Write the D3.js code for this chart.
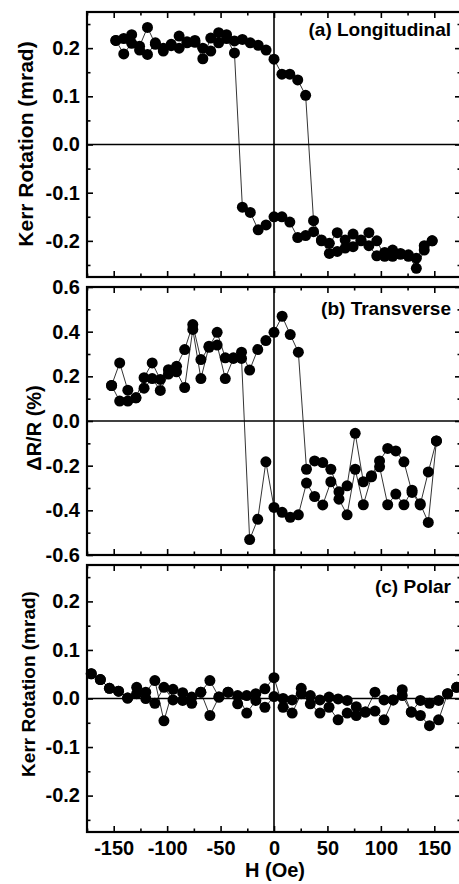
<!DOCTYPE html>
<html>
<head>
<meta charset="utf-8">
<script src="https://cdn.jsdelivr.net/npm/d3@7"></script>
<style>
  body { margin: 0; background: #fff; }
  svg text { font-family: "Liberation Sans", Arial, sans-serif; font-weight: bold; fill: #000; }
</style>
</head>
<body>
<div id="chart"></div>
<script>
// field values (Oe) for each panel, one point per step of the sweep
let fieldA = [-148, -140.6, -133.2, -125.8, -118.4, -111, -103.6, -96.2, -88.8, -81.4, -74, -66.6, -59.2, -51.8, -44.4, -37, -29.6, -22.2, -14.8, -7.4,
  0, 7.4, 14.8, 22.2, 29.6, 37, 44.4, 51.8, 59.2, 66.6, 74, 81.4, 88.8, 96.2, 103.6, 111, 118.4, 125.8, 133.2, 140.6, 148]
let kerrA_up = [0.216, 0.220, 0.228, 0.204, 0.243, 0.208, 0.194, 0.208, 0.225, 0.211, 0.216, 0.200, 0.194, 0.211, 0.228, 0.215, 0.218, 0.211, 0.206, 0.196,
  0.177, 0.146, 0.146, 0.134, 0.102, -0.158, -0.200, -0.226, -0.222, -0.215, -0.212, -0.198, -0.210, -0.231, -0.224, -0.232, -0.226, -0.229, -0.257, -0.219, -0.200]
let kerrA_down = [0.216, 0.188, 0.210, 0.196, 0.187, 0.211, 0.200, 0.205, 0.200, 0.213, 0.212, 0.178, 0.221, 0.232, 0.220, 0.190, -0.130, -0.141, -0.177, -0.167,
  -0.150, -0.150, -0.161, -0.193, -0.189, -0.181, -0.198, -0.205, -0.183, -0.198, -0.186, -0.200, -0.183, -0.200, -0.232, -0.219, -0.228, -0.232, -0.236, -0.210, -0.200]

let fieldB = [-152, -144.4, -136.8, -129.2, -121.6, -114, -106.4, -98.8, -91.2, -83.6, -76, -68.4, -60.8, -53.2, -45.6, -38, -30.4, -22.8, -15.2, -7.6,
  0, 7.6, 15.2, 22.8, 30.4, 38, 45.6, 53.2, 60.8, 68.4, 76, 83.6, 91.2, 98.8, 106.4, 114, 121.6, 129.2, 136.8, 144.4, 152]
let dRR_up = [0.159, 0.089, 0.089, 0.104, 0.147, 0.190, 0.137, 0.210, 0.220, 0.150, 0.410, 0.190, 0.335, 0.340, 0.190, 0.280, 0.308, 0.228, 0.320, 0.360,
  0.397, 0.469, 0.387, 0.308, -0.216, -0.179, -0.186, -0.216, -0.317, -0.290, -0.055, -0.272, -0.245, -0.179, -0.123, -0.134, -0.183, -0.320, -0.376, -0.228, -0.089]
let dRR_down = [0.159, 0.260, 0.138, 0.104, 0.194, 0.260, 0.186, 0.230, 0.245, 0.320, 0.432, 0.275, 0.330, 0.397, 0.283, 0.283, 0.280, -0.531, -0.440, -0.183,
  -0.387, -0.409, -0.431, -0.420, -0.278, -0.338, -0.376, -0.272, -0.350, -0.420, -0.216, -0.375, -0.250, -0.205, -0.375, -0.327, -0.375, -0.310, -0.370, -0.454, -0.089]

let fieldC = [-171, -162.5, -154, -145.5, -137, -128.5, -120, -111.5, -103, -94.5, -85.5, -77, -68.5, -60, -51.5, -43, -34, -25.5, -17, -8.5,
  0, 8.5, 17, 25.5, 34, 43, 51.5, 60, 68.5, 77, 85.5, 94.5, 103, 111.5, 120, 128.5, 137, 145.5, 154, 162.5, 171]
let kerrC_up = [0.051, 0.039, 0.021, 0.015, 0.001, 0.023, 0.013, 0.037, -0.046, 0.019, 0.012, 0.003, 0.013, 0.037, 0.003, 0.013, -0.011, 0.006, 0.010, 0.020,
  0.043, -0.018, -0.003, 0.021, 0.006, -0.003, 0.003, -0.001, -0.004, -0.017, -0.028, 0.013, -0.003, -0.003, 0.018, -0.028, -0.004, -0.010, -0.004, 0.010, 0.023]
let kerrC_down = [0.051, 0.039, 0.021, 0.015, 0.001, 0.010, 0.000, -0.010, 0.023, -0.003, -0.004, -0.010, 0.013, -0.035, 0.003, 0.013, 0.006, -0.030, -0.004, -0.018,
  0.004, 0.000, -0.030, 0.010, -0.011, -0.030, -0.018, -0.044, -0.030, -0.035, -0.028, -0.026, -0.044, -0.003, 0.006, -0.028, -0.035, -0.056, -0.044, 0.010, 0.023]

// ticks
let xMajor = [-150, -100, -50, 0, 50, 100, 150]
let xMinor = [-175, -125, -75, -25, 25, 75, 125, 175]
let kerrMajor = [-0.2, -0.1, 0.0, 0.1, 0.2]
let kerrMinor = [-0.25, -0.15, -0.05, 0.05, 0.15, 0.25]
let dRRMajor = [-0.6, -0.4, -0.2, 0.0, 0.2, 0.4, 0.6]
let dRRMinor = [-0.5, -0.3, -0.1, 0.1, 0.3, 0.5]

let svg_width = 459
let svg_height = 884
let left = 87, right = 461

let panels = [
  {top: 12, bottom: 277, domain: [-0.275, 0.275], major: kerrMajor, minor: kerrMinor,
   field: fieldA, up: kerrA_up, down: kerrA_down, label: "(a) Longitudinal", labelY: 36,
   title: "Kerr Rotation (mrad)", titleX: 26, titleY: 144, titleSize: 21},
  {top: 287, bottom: 555, domain: [-0.6, 0.6], major: dRRMajor, minor: dRRMinor,
   field: fieldB, up: dRR_up, down: dRR_down, label: "(b) Transverse", labelY: 315,
   title: "\u0394R/R (%)", titleX: 34, titleY: 428, titleSize: 20},
  {top: 565, bottom: 832, domain: [-0.275, 0.275], major: kerrMajor, minor: kerrMinor,
   field: fieldC, up: kerrC_up, down: kerrC_down, label: "(c) Polar", labelY: 593,
   title: "Kerr Rotation (mrad)", titleX: 28, titleY: 684, titleSize: 19}
]

let svg = d3.select("#chart")
  .append("svg")
  .attr("width", svg_width)
  .attr("height", svg_height)

let x = d3.scaleLinear().domain([-175, 175]).range([left, right])
let fmt = d => d.toFixed(1)

panels.forEach((p, i) => {
  let y = d3.scaleLinear().domain(p.domain).range([p.bottom, p.top])
  let g = svg.append("g")
  let last = i === panels.length - 1

  // inward ticks on all four sides, major + minor
  let addAxis = (axis, tr) => {
    let a = g.append("g").attr("transform", tr).call(axis)
    a.select(".domain").remove()
    a.selectAll("line").attr("stroke", "#000").attr("stroke-width", 1.6)
    return a
  }
  let yl = addAxis(d3.axisLeft(y).tickValues(p.major).tickSize(-6).tickPadding(7).tickFormat(fmt), `translate(${left},0)`)
  yl.selectAll("text").style("font-size", "20px").attr("font-family", null)
  addAxis(d3.axisLeft(y).tickValues(p.minor).tickSize(-3.5).tickFormat(""), `translate(${left},0)`)
  addAxis(d3.axisRight(y).tickValues(p.major).tickSize(-6).tickFormat(""), `translate(${right},0)`)
  addAxis(d3.axisRight(y).tickValues(p.minor).tickSize(-3.5).tickFormat(""), `translate(${right},0)`)
  addAxis(d3.axisTop(x).tickValues(xMajor).tickSize(-6).tickFormat(""), `translate(0,${p.top})`)
  addAxis(d3.axisTop(x).tickValues(xMinor).tickSize(-3.5).tickFormat(""), `translate(0,${p.top})`)
  let xb = addAxis(d3.axisBottom(x).tickValues(xMajor).tickSize(-6).tickPadding(9)
    .tickFormat(last ? (d => String(d)) : ""), `translate(0,${p.bottom})`)
  xb.selectAll("text").style("font-size", "20px").attr("font-family", null)
  addAxis(d3.axisBottom(x).tickValues(xMinor).tickSize(-3.5).tickFormat(""), `translate(0,${p.bottom})`)

  // frame
  g.append("rect")
    .attr("x", left).attr("y", p.top)
    .attr("width", right - left).attr("height", p.bottom - p.top)
    .attr("fill", "none").attr("stroke", "#000").attr("stroke-width", 2.2)

  // zero lines
  g.append("line")
    .attr("x1", left).attr("x2", right).attr("y1", y(0)).attr("y2", y(0))
    .attr("stroke", "#000").attr("stroke-width", 1.6)
  g.append("line")
    .attr("x1", x(0)).attr("x2", x(0)).attr("y1", p.top).attr("y2", p.bottom)
    .attr("stroke", "#000").attr("stroke-width", 1.6)

  let line = d3.line().x(d => x(d[0])).y(d => y(d[1]))
  let branches = [p.up, p.down].map(vals => p.field.map((h, k) => [h, vals[k]]))

  g.selectAll("path.branch")
    .data(branches)
    .enter()
    .append("path")
    .attr("class", "branch")
    .attr("d", line)
    .attr("fill", "none")
    .attr("stroke", "#000")
    .attr("stroke-width", 0.8)

  g.selectAll("circle")
    .data(branches.flat())
    .enter()
    .append("circle")
    .attr("cx", d => x(d[0]))
    .attr("cy", d => y(d[1]))
    .attr("r", 5.5)
    .attr("fill", "#000")

  g.append("text")
    .attr("x", 451).attr("y", p.labelY)
    .style("text-anchor", "end")
    .style("font-size", "19px")
    .text(p.label)

  g.append("text")
    .attr("transform", `translate(${p.titleX},${p.titleY}) rotate(-90)`)
    .attr("dy", "0.35em")
    .style("text-anchor", "middle")
    .style("font-size", p.titleSize + "px")
    .text(p.title)
})

svg.append("text")
  .attr("x", 275).attr("y", 877)
  .style("text-anchor", "middle")
  .style("font-size", "20px")
  .text("H (Oe)")
</script>
</body>
</html>
